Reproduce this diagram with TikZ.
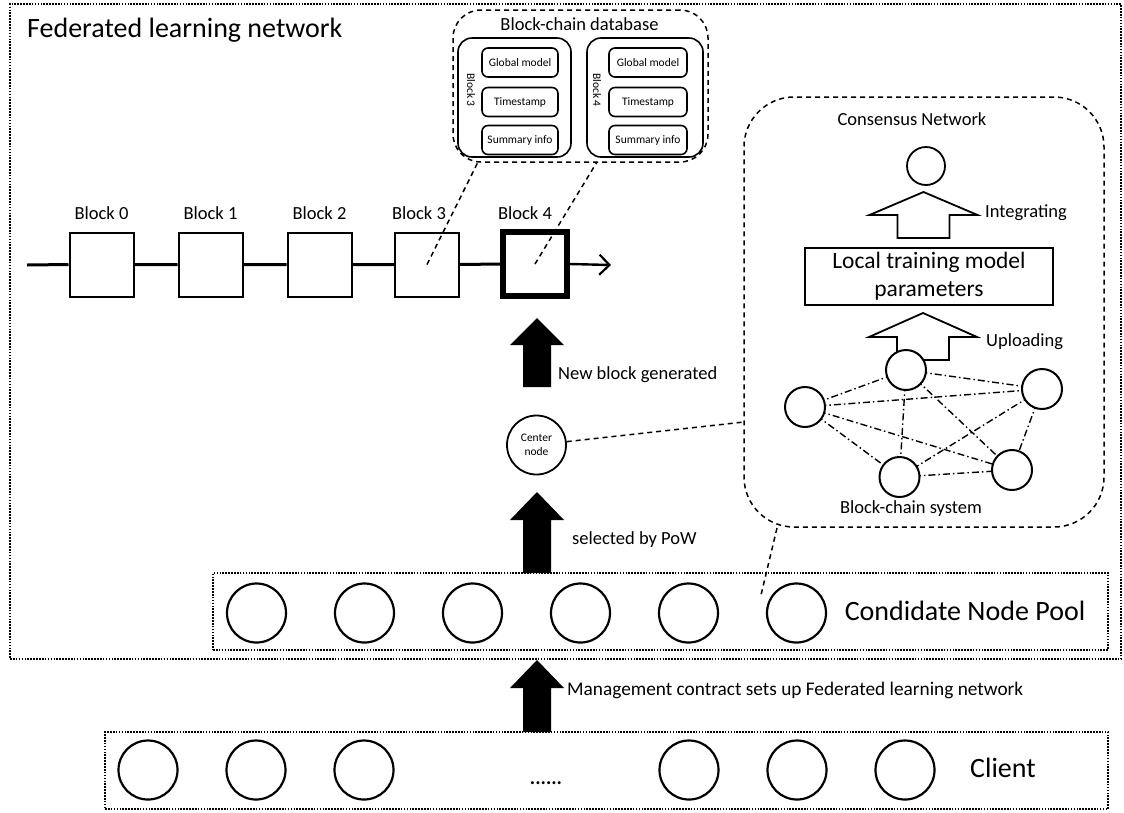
\documentclass[tikz,border=0pt]{standalone}
\usepackage{fontspec}
\setmainfont{Carlito}
\usetikzlibrary{arrows.meta}
\newcommand\fz[2]{\fontsize{#1}{#2}\selectfont}
% solid black up-arrow: x, bottom, head base, tip
\newcommand\solidup[4]{\fill (#1-14,#2) -- (#1-14,#3) -- (#1-27,#3) -- (#1,#4) -- (#1+27,#3) -- (#1+14,#3) -- (#1+14,#2) -- cycle;}
% hollow up-arrow: x, bottom, head base, tip
\newcommand\hollowup[4]{\draw[line width=1.8pt, fill=white, line join=miter] (#1-26,#2) -- (#1-26,#3) -- (#1-54,#3) -- (#1,#4) -- (#1+54,#3) -- (#1+26,#3) -- (#1+26,#2) -- cycle;}
\begin{document}
\begin{tikzpicture}[x=1pt,y=-1pt,
  frame/.style={draw, line width=1.8pt, dash pattern=on 1.6pt off 1.3pt},
  dashln/.style={line width=1.5pt, dash pattern=on 5pt off 4pt},
  dashbox/.style={draw, dashln, inner sep=0pt},
  blk/.style={draw, line width=2pt, minimum width=64pt, minimum height=64pt, inner sep=0pt, fill=white},
  ring/.style={circle, draw, line width=2.2pt, minimum size=59pt, inner sep=0pt},
  netc/.style={circle, draw, line width=2pt, minimum size=40pt, inner sep=0pt, fill=white},
  ddln/.style={line width=1.4pt, dash pattern=on 7pt off 3pt on 1.5pt off 3pt},
  lbl/.style={font=\fz{18.5}{22}, inner sep=0pt},
  biglbl/.style={font=\fz{28}{32}, inner sep=0pt},
  small/.style={font=\fz{11.5}{13}, inner sep=0pt},
  infobox/.style={draw, rounded corners=6pt, line width=1.6pt, minimum height=29pt, inner sep=0pt, font=\fz{11.5}{13}},
  holder/.style={draw, rounded corners=14pt, line width=1.6pt, minimum height=119pt, inner sep=0pt},
]
\useasboundingbox (0,0) rectangle (1124,812);

% outer federated learning network frame
\node[frame, minimum width=1111pt, minimum height=655pt, inner sep=0pt] (fln) at (565.5,331.5) {};
\node[biglbl, anchor=west] (flnt) at (27,30) {Federated learning network};

% block-chain database
\node[dashbox, rounded corners=28pt, minimum width=255pt, minimum height=152pt] (db) at (580.5,86) {};
\node[lbl] (dbt) at (579.5,24) {Block-chain database};
\node[holder, minimum width=113pt] (h3) at (514.5,97.5) {};
\node[holder, minimum width=116pt] (h4) at (645,97.5) {};
\node[infobox, minimum width=76pt] (g3) at (520,62.5) {Global model};
\node[infobox, minimum width=76pt] (t3) at (520,102) {Timestamp};
\node[infobox, minimum width=76pt] (s3) at (520,140) {Summary info};
\node[infobox, minimum width=78pt] (g4) at (648,62.5) {Global model};
\node[infobox, minimum width=78pt] (t4) at (648,102) {Timestamp};
\node[infobox, minimum width=78pt] (s4) at (648,140) {Summary info};
\node[small, rotate=-90] (r3) at (471,90) {Block 3};
\node[small, rotate=-90] (r4) at (597,90) {Block 4};

% chain of blocks
\coordinate (cs) at (27,265);
\coordinate (ce) at (611,265);
\node[blk] (b0) at (101.5,264.5) {};
\node[blk] (b1) at (210.5,264.5) {};
\node[blk] (b2) at (319.5,264.5) {};
\node[blk] (b3) at (427,264.5) {};
\node[blk, line width=6pt] (b4) at (535,264) {};
\draw[line width=3pt] (cs) -- (b0.west) (b0.east) -- (b1.west) (b1.east) -- (b2.west) (b2.east) -- (b3.west) (b3.east) -- (b4.west);
\draw[line width=2.4pt, -{Straight Barb[length=10pt,width=20pt,line width=2.2pt]}] (b4.east) -- (ce);
\node[lbl] (l0) at (101.5,213) {Block 0};
\node[lbl] (l1) at (210.5,213) {Block 1};
\node[lbl] (l2) at (319.5,213) {Block 2};
\node[lbl] (l3) at (419,213) {Block 3};
\node[lbl] (l4) at (525,213) {Block 4};
\coordinate (e3) at (478,162);
\coordinate (e4) at (597,162);
\draw[dashln] (b3.center) -- (e3);
\draw[dashln] (b4.center) -- (e4);

% center node and black arrows
\solidup{537}{387}{345}{318}
\node[lbl, anchor=west] (nbg) at (558,375) {New block generated};
\node[circle, draw, line width=1.8pt, minimum size=59pt, inner sep=0pt, align=center, font=\fz{11.5}{14}] (cnode) at (536.5,445) {Center\\node};
\solidup{537}{573}{520}{492}
\node[lbl, anchor=west] (sel) at (572,540) {selected by PoW};
\solidup{537}{732}{688}{660}
\node[font=\fz{19.3}{22}, inner sep=0pt, anchor=west] (mgmt) at (567,690) {Management contract sets up Federated learning network};

% consensus network
\node[dashbox, rounded corners=50pt, minimum width=360pt, minimum height=430pt] (cn) at (924,312) {};
\node[lbl] (cnt) at (912,119) {Consensus Network};
\node[circle, draw, line width=1.8pt, minimum size=38pt, inner sep=0pt] (top) at (926,166) {};
\hollowup{923.5}{238}{215}{192}
\node[lbl, anchor=west] (integ) at (985,213) {Integrating};
\node[draw, line width=1.6pt, minimum width=248pt, minimum height=57pt, inner sep=0pt, align=center, font=\fz{23.5}{28}] (ltm) at (929,276.5) {Local training model\\parameters};
\hollowup{923}{360}{337}{313}
\node[lbl, anchor=west] (upl) at (986,342) {Uploading};
\foreach \n/\p in {A/{(906,370)},B/{(805,407)},C/{(1042,389)},D/{(899.5,477)},E/{(1012,470)}}
  \path \p coordinate (c\n);
\foreach \a/\b in {A/B,A/C,A/D,A/E,B/C,B/D,B/E,C/D,C/E,D/E}
  \draw[ddln] (c\a) -- (c\b);
\node[netc] (A) at (cA) {};
\node[netc] (B) at (cB) {};
\node[netc] (C) at (cC) {};
\node[netc] (D) at (cD) {};
\node[netc] (E) at (cE) {};
\node[lbl] (bcs) at (911,509) {Block-chain system};

% candidate node pool
\node[frame, minimum width=895pt, minimum height=77pt, inner sep=0pt] (pool) at (660.5,611.5) {};
\foreach \i/\x in {1/256.5,2/364.5,3/472.5,4/580.5,5/688.5,6/796.5}
  \node[ring] (p\i) at (\x,613) {};
\node[biglbl] (poolt) at (965,611) {Condidate Node Pool};

% dashed connectors to consensus network
\coordinate (cnL) at (744,422);
\coordinate (cnB) at (777,528);
\coordinate (poolE) at (761,595);
\draw[dashln] (cnode) -- (cnL);
\draw[dashln] (cnB) -- (poolE);

% clients
\node[frame, minimum width=1003pt, minimum height=77pt, inner sep=0pt] (cl) at (606.5,770.5) {};
\foreach \i/\x in {1/148,2/256,3/364,4/689,5/797,6/905}
  \node[ring] (k\i) at (\x,770) {};
\node[font=\fz{20}{22}\bfseries, inner sep=0pt] (dots) at (546,783) {......};
\node[biglbl] (clt) at (1003,768) {Client};
\end{tikzpicture}
\end{document}
